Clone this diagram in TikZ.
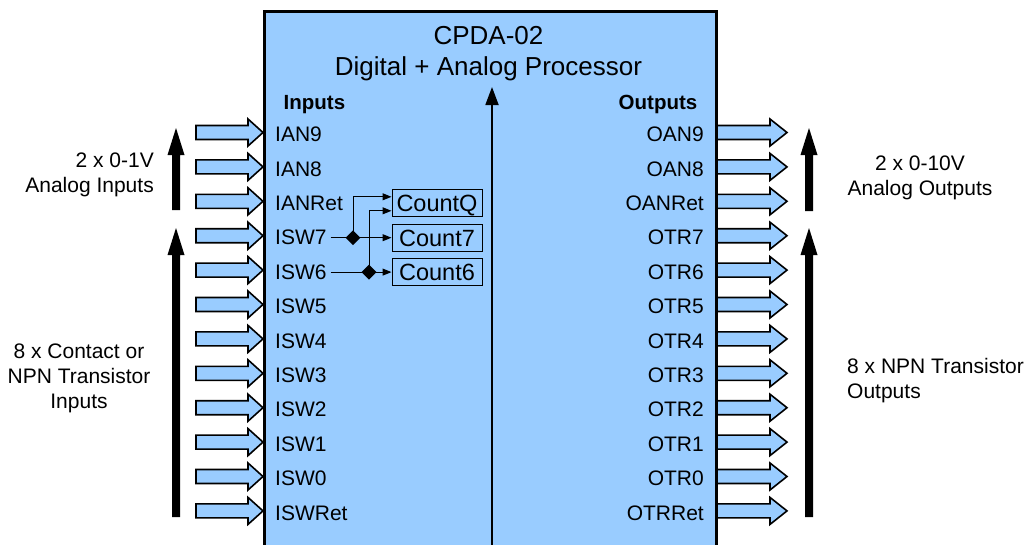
\documentclass[tikz,border=0pt]{standalone}
\usepackage{fontspec}
\setmainfont{Liberation Sans}
\usetikzlibrary{arrows.meta,shapes.geometric,calc}
\definecolor{boxblue}{RGB}{153,204,255}
\begin{document}
\begin{tikzpicture}[x=1pt,y=-1pt,
  lbl/.style={inner sep=0pt,font=\fontsize{21}{25}\selectfont},
  inlbl/.style={lbl,anchor=west},
  outlbl/.style={lbl,anchor=east},
  head/.style={inner sep=0pt,font=\bfseries\fontsize{20.5}{24}\selectfont},
  side/.style={inner sep=0pt,align=#1,font=\fontsize{21}{25}\selectfont},
  cnt/.style={draw,line width=1pt,minimum width=90pt,minimum height=27pt,inner sep=0pt,
    text height=17pt,text depth=0pt,font=\fontsize{23.5}{28}\selectfont},
  junc/.style={diamond,fill=black,inner sep=0pt,minimum width=15pt,minimum height=15pt},
  wire/.style={line width=1pt},
  tipped/.style={-{Triangle[length=9pt,width=7pt]}},
  blockarrow/.style={draw=black,fill=boxblue,line width=1.6pt,line join=miter},
  procbox/.style={draw=black,fill=boxblue,line width=3.5pt}
]
\useasboundingbox (0,0) rectangle (1031,544);
\clip (0,0) rectangle (1031,544);

% hollow signal arrows
\foreach \i in {0,...,11}{
  \pgfmathsetmacro\ya{132.5+34.4*\i}
  \draw[blockarrow] (196,{\ya-7}) -- (248,{\ya-7}) -- (248,{\ya-13.5}) -- (263,\ya)
     -- (248,{\ya+13.5}) -- (248,{\ya+7}) -- (196,{\ya+7}) -- cycle;
  \draw[blockarrow] (716,{\ya-7}) -- (770,{\ya-7}) -- (770,{\ya-13.5}) -- (787,\ya)
     -- (770,{\ya+13.5}) -- (770,{\ya+7}) -- (716,{\ya+7}) -- cycle;
}

% processor box
\draw[procbox] (264.5,11.5) rectangle (716.5,570);

% divider with arrow
\draw[line width=1.8pt,-{Triangle[length=18pt,width=13pt]}] (492,570) -- (492,87);

% title
\node[side=center,anchor=north,font=\fontsize{26}{31}\selectfont] (title) at (488.5,26)
  {CPDA-02\\Digital + Analog Processor};

\node[head,anchor=base west] (inputs) at (283.5,109.5) {Inputs};
\node[head,anchor=base east] (outputs) at (697.5,109.5) {Outputs};

% pin labels
\foreach \i/\l/\r in {0/IAN9/OAN9,1/IAN8/OAN8,2/IANRet/OANRet,3/ISW7/OTR7,4/ISW6/OTR6,
  5/ISW5/OTR5,6/ISW4/OTR4,7/ISW3/OTR3,8/ISW2/OTR2,9/ISW1/OTR1,10/ISW0/OTR0,11/ISWRet/OTRRet}{
  \pgfmathsetmacro\yt{134.5+34.4*\i}
  \node[inlbl] (in\i) at (275,\yt) {\l};
  \node[outlbl] (out\i) at (704,\yt) {\r};
}

% counters
\node[cnt] (cq) at (437,0 |- in2.east) {CountQ};
\node[cnt] (c7) at (437,0 |- in3.east) {Count7};
\node[cnt] (c6) at (437,0 |- in4.east) {Count6};

\node[junc] (j7) at (353,0 |- in3.east) {};
\node[junc] (j6) at (369,0 |- in4.east) {};

\draw[wire,tipped,shorten <=4pt] (in3.east) -- (in3.east -| c7.west);
\draw[wire,tipped,shorten <=4pt] (in4.east) -- (in4.east -| c6.west);
\draw[wire,tipped] (j7.center) |- ($(cq.west)+(0,-6.5)$);
\draw[wire,tipped] (j6.center) |- ($(cq.west)+(0,7.5)$);

% big black arrows
\foreach \x/\t/\b in {176/128/210,176/228/517,809/128/211,809/228/517}{
  \fill ({\x-4},\b) -- ({\x-4},{\t+27}) -- ({\x-8.5},{\t+27}) -- (\x,\t)
    -- ({\x+8.5},{\t+27}) -- ({\x+4},{\t+27}) -- ({\x+4},\b) -- cycle;
}

% side labels
\node[side=right,anchor=north east] (anin) at (154,153) {2 x 0-1V\\Analog Inputs};
\node[side=center,anchor=north] (swin) at (79,344) {8 x Contact or\\NPN Transistor\\Inputs};
\node[side=center,anchor=north] (anout) at (920,155.5) {2 x 0-10V\\Analog Outputs};
\node[side=left,anchor=north west] (trout) at (847,358.5) {8 x NPN Transistor\\Outputs};
\end{tikzpicture}
\end{document}
